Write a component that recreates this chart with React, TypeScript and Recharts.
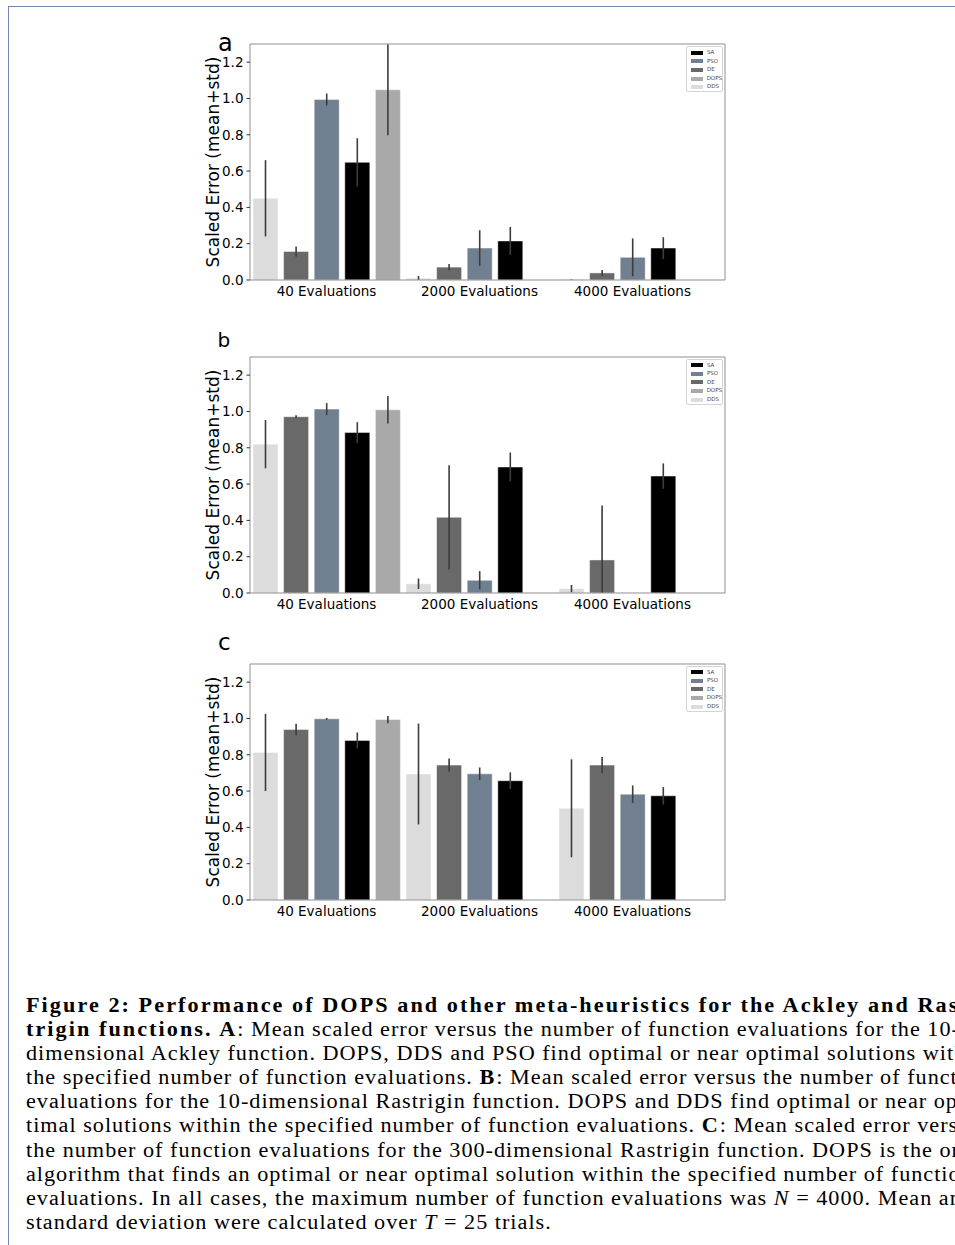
import { Bar, BarChart, ErrorBar, Legend, XAxis, YAxis } from "recharts";

const CATEGORIES = ["40 Evaluations", "2000 Evaluations", "4000 Evaluations"];
const Y_TICKS = [0, 0.2, 0.4, 0.6, 0.8, 1.0, 1.2];

// a: Ackley
const A_DDS = [0.45, 0.01, 0.004];
const A_DDS_STD = [0.21, 0.012, 0.002];
const A_DE = [0.157, 0.071, 0.039];
const A_DE_STD = [0.028, 0.017, 0.016];
const A_PSO = [0.994, 0.176, 0.125];
const A_PSO_STD = [0.033, 0.098, 0.104];
const A_SA = [0.648, 0.215, 0.176];
const A_SA_STD = [0.133, 0.077, 0.06];
const A_DOPS = [1.048, 0, 0];
const A_DOPS_STD = [0.25, 0, 0];

// b: Rastrigin 10-d
const B_DDS = [0.82, 0.051, 0.024];
const B_DDS_STD = [0.133, 0.029, 0.02];
const B_DE = [0.971, 0.417, 0.182];
const B_DE_STD = [0.008, 0.287, 0.3];
const B_PSO = [1.013, 0.07, 0];
const B_PSO_STD = [0.033, 0.05, 0];
const B_SA = [0.884, 0.694, 0.644];
const B_SA_STD = [0.057, 0.08, 0.07];
const B_DOPS = [1.009, 0, 0];
const B_DOPS_STD = [0.076, 0, 0];

// c: Rastrigin 300-d
const C_DDS = [0.813, 0.694, 0.505];
const C_DDS_STD = [0.213, 0.278, 0.27];
const C_DE = [0.939, 0.743, 0.743];
const C_DE_STD = [0.032, 0.037, 0.045];
const C_PSO = [0.998, 0.695, 0.583];
const C_PSO_STD = [0.005, 0.035, 0.048];
const C_SA = [0.879, 0.657, 0.574];
const C_SA_STD = [0.044, 0.046, 0.048];
const C_DOPS = [0.994, 0, 0];
const C_DOPS_STD = [0.02, 0, 0];

const FONT = "'DejaVu Sans', sans-serif";
const FRAME = "#8f8f8f";

// bar order inside a group
const SERIES = [
  { key: "dds", name: "DDS", color: "#dcdcdc" },
  { key: "de", name: "DE", color: "#696969" },
  { key: "pso", name: "PSO", color: "#708090" },
  { key: "sa", name: "SA", color: "#000000" },
  { key: "dops", name: "DOPS", color: "#a9a9a9" },
];
const LEGEND_ORDER = ["sa", "pso", "de", "dops", "dds"];

type Vals = Record<string, number[]>;

function buildRows(means: Vals, stds: Vals) {
  return CATEGORIES.map((label, i) => {
    const row: Record<string, any> = { label };
    for (const s of SERIES) {
      const m = means[s.key][i];
      const sd = stds[s.key][i];
      row[s.key] = m;
      // lower whisker stops at the axis
      row[s.key + "Err"] = [Math.min(sd, m), sd];
    }
    return row;
  });
}

const ROWS_A = buildRows(
  { dds: A_DDS, de: A_DE, pso: A_PSO, sa: A_SA, dops: A_DOPS },
  { dds: A_DDS_STD, de: A_DE_STD, pso: A_PSO_STD, sa: A_SA_STD, dops: A_DOPS_STD }
);
const ROWS_B = buildRows(
  { dds: B_DDS, de: B_DE, pso: B_PSO, sa: B_SA, dops: B_DOPS },
  { dds: B_DDS_STD, de: B_DE_STD, pso: B_PSO_STD, sa: B_SA_STD, dops: B_DOPS_STD }
);
const ROWS_C = buildRows(
  { dds: C_DDS, de: C_DE, pso: C_PSO, sa: C_SA, dops: C_DOPS },
  { dds: C_DDS_STD, de: C_DE_STD, pso: C_PSO_STD, sa: C_SA_STD, dops: C_DOPS_STD }
);

function SmallLegend() {
  return (
    <div
      style={{
        border: "1px solid #d4d4d4",
        borderRadius: 2,
        background: "rgba(255,255,255,0.8)",
        width: 37,
        height: 46,
        boxSizing: "border-box",
        paddingTop: 1.5,
      }}
    >
      {LEGEND_ORDER.map((k) => {
        const s = SERIES.find((x) => x.key === k)!;
        return (
          <div key={k} style={{ display: "flex", alignItems: "center", height: 8.6 }}>
            <span style={{ display: "inline-block", width: 12, height: 4, marginLeft: 4, background: s.color }} />
            <span style={{ fontFamily: FONT, fontSize: 5.5, marginLeft: 4, color: "#444", lineHeight: 1 }}>{s.name}</span>
          </div>
        );
      })}
    </div>
  );
}

function Panel({ top, rows }: { top: number; rows: Record<string, any>[] }) {
  return (
    <div style={{ position: "absolute", left: 0, top: top - 10, width: 760, height: 276 }}>
      <BarChart
        width={760}
        height={276}
        data={rows}
        margin={{ top: 9, right: 34, left: 0, bottom: 0 }}
        barCategoryGap={0}
        barGap={5.6}
      >
        <XAxis
          dataKey="label"
          height={30}
          interval={0}
          tickLine={false}
          tickSize={4}
          axisLine={{ stroke: FRAME }}
          padding={{ left: 0, right: 16 }}
          tick={{ fontSize: 13.5, fill: "#000", fontFamily: FONT }}
        />
        {/* top and right edges of the box */}
        <XAxis
          xAxisId="top"
          orientation="top"
          dataKey="label"
          height={1}
          tick={false}
          tickLine={false}
          axisLine={{ stroke: FRAME }}
        />
        <YAxis
          width={250}
          domain={[0, 1.3]}
          ticks={Y_TICKS}
          allowDataOverflow
          tickFormatter={(v: number) => v.toFixed(1)}
          tickSize={3.5}
          tickMargin={3}
          tickLine={{ stroke: "#333" }}
          axisLine={{ stroke: FRAME }}
          tick={{ fontSize: 13.5, fill: "#000", fontFamily: FONT }}
          label={{
            value: "Scaled Error (mean+std)",
            angle: -90,
            position: "center",
            dx: 88,
            style: { fontSize: 17, fontFamily: FONT, fill: "#000" },
          }}
        />
        <YAxis
          yAxisId="r"
          orientation="right"
          width={1}
          domain={[0, 1.3]}
          tick={false}
          tickLine={false}
          axisLine={{ stroke: FRAME }}
        />
        <Legend
          layout="vertical"
          align="center"
          verticalAlign="middle"
          content={() => <SmallLegend />}
          wrapperStyle={{ left: 686, top: 12, width: 37, height: 46 }}
        />
        {SERIES.map((s) => (
          <Bar
            key={s.key}
            dataKey={s.key}
            name={s.name}
            fill={s.color}
            barSize={25}
            stroke="rgba(255,255,255,0.45)"
            strokeWidth={1}
            isAnimationActive={false}
          >
            <ErrorBar dataKey={s.key + "Err"} width={0} stroke="#3d3d3d" strokeWidth={1.6} direction="y" />
          </Bar>
        ))}
      </BarChart>
    </div>
  );
}

const CAPTION: [string, boolean][][] = [
  [["Figure 2: Performance of DOPS and other meta-heuristics for the Ackley and Ras-", true]],
  [
    ["trigin functions.", true],
    [" ", false],
    ["A", true],
    [": Mean scaled error versus the number of function evaluations for the 10-", false],
  ],
  [["dimensional Ackley function. DOPS, DDS and PSO find optimal or near optimal solutions within", false]],
  [
    ["the specified number of function evaluations. ", false],
    ["B", true],
    [": Mean scaled error versus the number of function", false],
  ],
  [["evaluations for the 10-dimensional Rastrigin function. DOPS and DDS find optimal or near op-", false]],
  [
    ["timal solutions within the specified number of function evaluations. ", false],
    ["C", true],
    [": Mean scaled error versus", false],
  ],
  [["the number of function evaluations for the 300-dimensional Rastrigin function. DOPS is the only", false]],
  [["algorithm that finds an optimal or near optimal solution within the specified number of function", false]],
  [["evaluations. In all cases, the maximum number of function evaluations was ", false]],
  [["standard deviation were calculated over ", false]],
];

function Caption() {
  return (
    <div
      style={{
        position: "absolute",
        left: 26,
        top: 993,
        width: 1000,
        transform: "scaleX(1.11)",
        transformOrigin: "0 0",
        fontFamily: "'Liberation Serif', serif",
        fontSize: 20,
        lineHeight: "24.1px",
        letterSpacing: 0.9,
        color: "#000",
        whiteSpace: "nowrap",
      }}
    >
      {CAPTION.map((line, i) => (
        <div key={i}>
          {line.map(([t, b], j) => (
            <span key={j} style={{ fontWeight: b ? "bold" : "normal", letterSpacing: b ? 1.85 : undefined }}>
              {t}
            </span>
          ))}
          {i === 8 && (
            <>
              <i>N</i> = 4000. Mean and
            </>
          )}
          {i === 9 && (
            <>
              <i>T</i> = 25 trials.
            </>
          )}
        </div>
      ))}
    </div>
  );
}

export default function App() {
  return (
    <div style={{ position: "absolute", left: 0, top: 0, width: 955, height: 1245, overflow: "hidden", background: "#fff" }}>
      <div
        style={{
          position: "absolute",
          left: 8,
          top: 6,
          width: 960,
          height: 1260,
          borderTop: "1.5px solid #7089ae",
          borderLeft: "1.5px solid #7089ae",
        }}
      />
      <Panel top={44} rows={ROWS_A} />
      <Panel top={356.5} rows={ROWS_B} />
      <Panel top={663.5} rows={ROWS_C} />
      <svg width={955} height={1245} style={{ position: "absolute", left: 0, top: 0, pointerEvents: "none" }}>
        <text x={218} y={50.5} fontFamily={FONT} fontSize={24} fill="#000">a</text>
        <text x={217.5} y={346.5} fontFamily={FONT} fontSize={20} fill="#000">b</text>
        <text x={218} y={650} fontFamily={FONT} fontSize={23} fill="#000">c</text>
      </svg>
      <Caption />
    </div>
  );
}
